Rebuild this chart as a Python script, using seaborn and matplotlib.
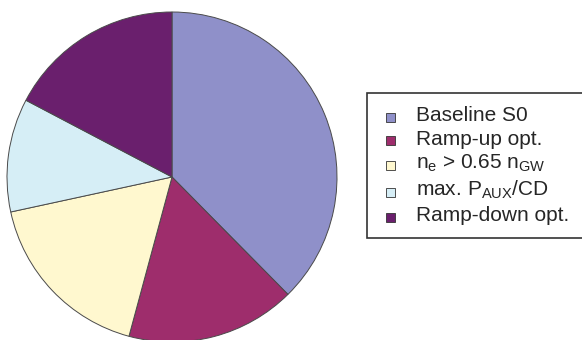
import matplotlib
matplotlib.use("Agg")
import matplotlib.pyplot as plt
from matplotlib.patches import Patch, Rectangle
from matplotlib.legend_handler import HandlerPatch
import seaborn as sns

# Share of each scenario
labels = [
    "Baseline S0",
    "Ramp-up opt.",
    "n$_e$ > 0.65 n$_{GW}$",
    "max. P$_{AUX}$/CD",
    "Ramp-down opt.",
]
shares = [37.6, 16.6, 17.4, 11.1, 17.3]
colors = ["#8f90c9", "#9e2d6c", "#fff8cf", "#d6eef6", "#6a1f6d"]

sns.set_theme(style="white")
plt.rcParams["font.family"] = ["Liberation Sans", "DejaVu Sans"]
plt.rcParams["mathtext.default"] = "regular"

W, H = 582, 340
fig = plt.figure(figsize=(W / 100, H / 100), dpi=100)
fig.patch.set_facecolor("white")

# pie: centre (172, 177) px, radius 165 px
cx, cy, r = 172, 177, 165
ax = fig.add_axes([(cx - r) / W, (H - cy - r) / H, 2 * r / W, 2 * r / H])
ax.pie(
    shares,
    colors=colors,
    startangle=90,
    counterclock=False,
    radius=1.0,
    wedgeprops=dict(edgecolor="#4a4a4a", linewidth=0.7),
)
ax.set_xlim(-1, 1)
ax.set_ylim(-1, 1)
ax.set_aspect("equal")
ax.axis("off")

FS = 15  # points


def small_square(legend, orig_handle, xdescent, ydescent, width, height, fontsize):
    # 9 px square, indented and sitting near the text baseline
    side = 9 * 72 / 100
    return Rectangle((-xdescent + width - side, -ydescent - 2.2), side, side)


handles = [Patch(facecolor=c, edgecolor="#333333", linewidth=0.6) for c in colors]
leg = fig.legend(
    handles,
    labels,
    loc="upper left",
    bbox_to_anchor=(367 / W, 1 - 93 / H, 240 / W, 0),
    mode="expand",
    borderaxespad=0,
    fontsize=FS,
    frameon=True,
    fancybox=False,
    edgecolor="black",
    handlelength=0.72,
    handleheight=0.4,
    handletextpad=1.0,
    labelspacing=0.215,
    borderpad=0.63,
    handler_map={Patch: HandlerPatch(patch_func=small_square)},
)
leg.get_frame().set_linewidth(1.2)

fig.savefig("out.png", dpi=100, facecolor="white")
